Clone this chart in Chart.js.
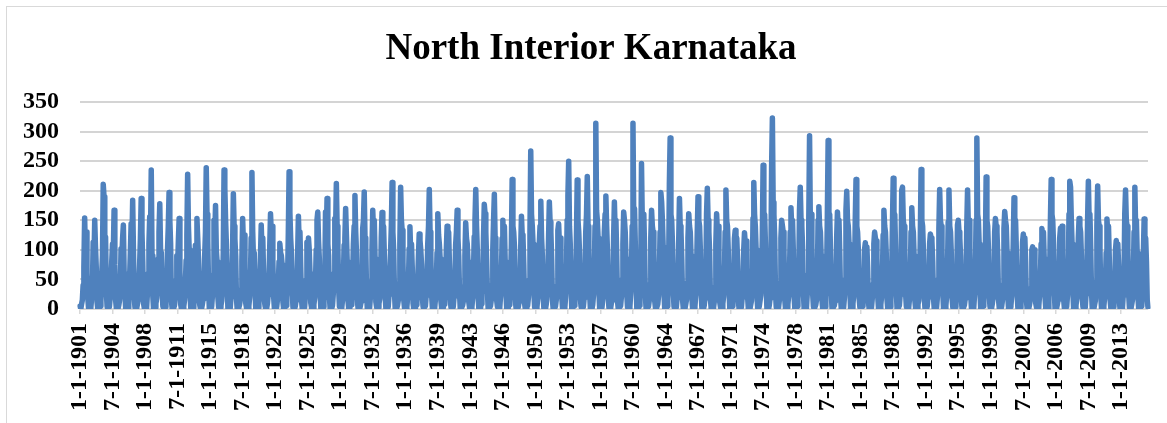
<!DOCTYPE html>
<html>
<head>
<meta charset="utf-8">
<title>North Interior Karnataka</title>
<script src="https://cdn.jsdelivr.net/npm/chart.js@4.4.1/dist/chart.umd.min.js"></script>
<style>
    html, body { margin: 0; padding: 0; background: #fff; }
    .wrap { position: relative; width: 1167px; height: 423px; overflow: hidden; }
    .frame {
        position: absolute; left: 6px; top: 6px; width: 1300px; height: 600px;
        border-left: 1px solid #d9d9d9; border-top: 1px solid #d9d9d9;
        pointer-events: none;
    }
    canvas { position: absolute; left: 0; top: 0; }
</style>
</head>
<body>
<div class="wrap">
    <div class="frame"></div>
    <canvas id="rainChart"></canvas>
</div>
<script>
// Monthly rainfall (mm), one row per year, Jan..Dec
const firstYear = 1901;
const rainfall = [
    [5, 0, 8, 15, 40, 70, 154, 95, 130, 60, 20, 2],        // 1901
    [0, 3, 2, 18, 35, 113, 80, 150, 105, 70, 12, 0],
    [2, 0, 5, 12, 55, 90, 211, 190, 120, 122, 30, 4],
    [0, 2, 4, 20, 45, 80, 110, 95, 167, 75, 15, 1],
    [3, 0, 6, 14, 30, 102, 85, 120, 142, 60, 25, 0],
    [1, 4, 3, 22, 50, 95, 144, 110, 184, 101, 18, 3],
    [0, 0, 7, 16, 38, 75, 120, 187, 130, 80, 10, 2],
    [4, 1, 2, 25, 60, 110, 156, 120, 235, 90, 22, 0],
    [0, 3, 9, 18, 42, 85, 130, 178, 100, 95, 30, 5],
    [2, 0, 4, 12, 35, 100, 140, 197, 150, 110, 14, 1],     // 1910
    [0, 2, 6, 19, 48, 90, 70, 115, 153, 65, 8, 0],
    [3, 0, 5, 15, 40, 82, 125, 228, 140, 100, 26, 2],
    [1, 5, 3, 20, 52, 108, 95, 153, 120, 85, 12, 4],
    [0, 1, 8, 17, 44, 90, 130, 239, 160, 115, 35, 0],
    [2, 0, 4, 23, 58, 150, 120, 175, 100, 80, 20, 3],
    [0, 3, 6, 14, 36, 95, 235, 204, 150, 110, 40, 1],
    [4, 0, 2, 21, 47, 100, 195, 140, 119, 90, 18, 0],
    [0, 2, 7, 16, 33, 80, 153, 110, 125, 70, 10, 2],
    [1, 0, 5, 19, 50, 120, 231, 130, 85, 95, 28, 0],
    [3, 4, 3, 13, 41, 88, 142, 100, 120, 60, 15, 5],       // 1920
    [0, 1, 9, 24, 55, 105, 161, 128, 140, 80, 22, 1],
    [2, 0, 4, 17, 38, 80, 111, 95, 90, 75, 12, 0],
    [0, 3, 6, 20, 46, 130, 232, 164, 120, 95, 30, 3],
    [1, 0, 5, 15, 35, 90, 157, 110, 130, 70, 16, 0],
    [4, 2, 3, 22, 49, 113, 95, 120, 100, 60, 10, 2],
    [0, 0, 8, 18, 40, 100, 150, 164, 115, 85, 25, 1],
    [2, 3, 4, 14, 37, 164, 120, 187, 110, 90, 20, 0],
    [0, 1, 6, 25, 60, 153, 130, 212, 140, 100, 33, 4],
    [3, 0, 2, 16, 44, 108, 120, 170, 125, 80, 14, 0],
    [1, 4, 7, 19, 52, 110, 140, 192, 130, 95, 18, 2],      // 1930
    [0, 0, 5, 13, 34, 136, 150, 198, 120, 105, 27, 0],
    [2, 1, 3, 21, 47, 100, 167, 130, 150, 85, 12, 3],
    [0, 3, 9, 17, 39, 120, 163, 110, 140, 90, 22, 1],
    [4, 0, 4, 24, 58, 95, 140, 214, 130, 100, 30, 0],
    [1, 2, 6, 15, 43, 110, 206, 150, 133, 80, 16, 2],
    [0, 0, 3, 20, 36, 102, 139, 95, 110, 70, 10, 0],
    [3, 1, 7, 12, 45, 90, 127, 116, 100, 75, 20, 4],
    [0, 4, 5, 23, 51, 110, 140, 202, 130, 90, 24, 1],
    [2, 0, 2, 18, 40, 95, 161, 125, 110, 85, 14, 0],
    [0, 2, 8, 16, 33, 100, 140, 119, 130, 75, 18, 3],      // 1940
    [1, 0, 4, 21, 48, 108, 130, 167, 120, 90, 28, 0],
    [4, 3, 6, 14, 38, 90, 146, 120, 110, 80, 12, 2],
    [0, 1, 3, 19, 55, 122, 150, 202, 140, 100, 20, 0],
    [2, 0, 9, 25, 47, 120, 177, 161, 130, 85, 32, 1],
    [0, 3, 5, 15, 40, 100, 150, 194, 120, 95, 15, 4],
    [1, 0, 2, 22, 44, 119, 150, 110, 140, 80, 25, 0],
    [3, 2, 7, 17, 50, 110, 219, 140, 130, 105, 18, 2],
    [0, 0, 4, 13, 36, 100, 157, 125, 120, 75, 10, 0],
    [2, 4, 6, 20, 49, 130, 267, 160, 140, 110, 30, 3],
    [0, 1, 3, 18, 42, 110, 140, 182, 120, 90, 20, 1],      // 1950
    [1, 0, 8, 24, 53, 120, 181, 147, 130, 85, 15, 0],
    [4, 2, 5, 16, 39, 133, 144, 110, 120, 80, 22, 2],
    [0, 0, 2, 21, 57, 150, 192, 250, 140, 110, 35, 0],
    [2, 3, 6, 14, 44, 120, 218, 150, 130, 95, 18, 4],
    [0, 1, 4, 19, 48, 130, 160, 224, 140, 100, 27, 1],
    [3, 0, 7, 23, 60, 140, 314, 167, 150, 120, 30, 0],
    [1, 4, 3, 17, 45, 130, 160, 191, 140, 100, 20, 2],
    [0, 0, 9, 15, 38, 120, 181, 130, 150, 90, 14, 0],
    [2, 2, 5, 20, 50, 110, 164, 150, 130, 85, 24, 3],
    [0, 1, 3, 26, 62, 140, 314, 150, 170, 110, 36, 1],     // 1960
    [4, 0, 6, 18, 47, 246, 150, 144, 160, 100, 22, 0],
    [1, 3, 4, 14, 42, 120, 167, 140, 130, 95, 15, 2],
    [0, 0, 8, 22, 53, 130, 197, 181, 150, 105, 28, 0],
    [2, 1, 5, 17, 58, 212, 289, 160, 150, 110, 30, 4],
    [0, 4, 3, 19, 40, 110, 187, 140, 130, 85, 16, 1],
    [3, 0, 7, 15, 44, 120, 161, 140, 130, 90, 20, 0],
    [0, 2, 4, 24, 51, 130, 190, 150, 140, 100, 26, 2],
    [1, 0, 6, 18, 46, 161, 204, 150, 130, 95, 18, 0],
    [4, 3, 2, 13, 37, 110, 161, 130, 140, 80, 12, 3],
    [0, 1, 9, 21, 55, 130, 201, 150, 140, 100, 30, 0],     // 1970
    [2, 0, 5, 16, 42, 119, 133, 110, 120, 85, 14, 1],
    [0, 2, 3, 20, 39, 100, 129, 110, 115, 70, 20, 0],
    [3, 0, 7, 14, 48, 153, 214, 160, 140, 100, 24, 2],
    [1, 4, 4, 23, 56, 120, 243, 150, 160, 110, 34, 0],
    [0, 0, 6, 18, 62, 240, 323, 180, 160, 120, 28, 3],
    [2, 1, 3, 15, 44, 120, 150, 140, 130, 95, 16, 0],
    [0, 3, 8, 22, 50, 130, 171, 136, 150, 100, 22, 1],
    [4, 0, 5, 17, 47, 167, 206, 150, 140, 105, 30, 0],
    [1, 2, 2, 25, 58, 150, 293, 148, 160, 110, 26, 4],
    [0, 0, 7, 16, 41, 150, 173, 140, 130, 90, 15, 0],      // 1980
    [3, 1, 4, 20, 54, 161, 285, 150, 160, 100, 28, 2],
    [0, 4, 6, 14, 38, 120, 164, 140, 150, 95, 20, 0],
    [2, 0, 3, 19, 50, 167, 199, 150, 140, 110, 32, 1],
    [0, 2, 9, 23, 46, 150, 219, 140, 130, 100, 18, 3],
    [1, 0, 5, 15, 36, 100, 112, 96, 105, 70, 12, 0],
    [4, 3, 3, 18, 42, 110, 130, 120, 115, 85, 22, 2],
    [0, 0, 7, 21, 49, 125, 167, 140, 130, 95, 16, 0],
    [2, 1, 4, 16, 53, 140, 221, 150, 160, 105, 30, 1],
    [0, 3, 6, 24, 58, 201, 206, 150, 140, 100, 26, 4],
    [1, 0, 2, 17, 44, 130, 171, 140, 130, 90, 14, 0],      // 1990
    [3, 2, 8, 14, 40, 120, 236, 150, 140, 100, 24, 2],
    [0, 0, 5, 20, 47, 110, 127, 120, 115, 80, 20, 0],
    [2, 4, 3, 19, 50, 136, 202, 150, 140, 100, 28, 1],
    [0, 1, 6, 22, 55, 147, 201, 140, 130, 95, 18, 3],
    [4, 0, 4, 15, 39, 142, 150, 130, 120, 90, 14, 0],
    [1, 3, 7, 18, 46, 139, 201, 140, 150, 100, 26, 2],
    [0, 0, 2, 23, 52, 150, 289, 160, 150, 110, 30, 0],
    [2, 2, 5, 16, 48, 100, 223, 150, 140, 100, 22, 4],
    [0, 1, 9, 20, 43, 130, 153, 140, 130, 90, 16, 1],
    [3, 0, 4, 14, 41, 136, 165, 150, 140, 95, 20, 0],      // 2000
    [1, 4, 6, 21, 50, 110, 188, 140, 150, 100, 25, 2],
    [0, 0, 3, 17, 37, 113, 127, 110, 120, 80, 14, 0],
    [2, 1, 7, 15, 35, 100, 105, 96, 100, 75, 10, 3],
    [0, 3, 5, 24, 47, 110, 136, 120, 130, 85, 20, 1],
    [4, 0, 2, 19, 56, 150, 219, 160, 150, 110, 30, 0],
    [1, 2, 8, 16, 42, 120, 137, 130, 140, 95, 18, 2],
    [0, 0, 4, 22, 58, 160, 216, 206, 150, 110, 28, 0],
    [3, 1, 6, 18, 44, 120, 153, 140, 130, 90, 20, 4],
    [0, 4, 3, 25, 60, 150, 216, 150, 160, 105, 32, 1],
    [2, 0, 7, 14, 46, 140, 208, 150, 140, 100, 24, 0],     // 2010
    [0, 2, 5, 20, 40, 95, 152, 130, 140, 85, 16, 2],
    [1, 0, 4, 17, 38, 100, 116, 90, 110, 75, 12, 0],
    [4, 3, 2, 23, 52, 161, 201, 150, 140, 100, 26, 3],
    [0, 1, 8, 16, 48, 130, 206, 140, 150, 95, 20, 0],
    [2, 0, 5, 21, 45, 91, 152, 110, 120, 80, 15, 3]        // 2015
];

// labels shown under the axis
const tickLabels = [
    '1-1-1901', '7-1-1904', '1-1-1908', '7-1-1911', '1-1-1915', '7-1-1918',
    '1-1-1922', '7-1-1925', '1-1-1929', '7-1-1932', '1-1-1936', '7-1-1939',
    '1-1-1943', '7-1-1946', '1-1-1950', '7-1-1953', '1-1-1957', '7-1-1960',
    '1-1-1964', '7-1-1967', '1-1-1971', '7-1-1974', '1-1-1978', '7-1-1981',
    '1-1-1985', '7-1-1988', '1-1-1992', '7-1-1995', '1-1-1999', '7-1-2002',
    '1-1-2006', '7-1-2009', '1-1-2013'
];

const yTicks = [0, 50, 100, 150, 200, 250, 300, 350];
const chartTitle = 'North Interior Karnataka';

// one category per month, m-d-yyyy like the sheet
const labels = [];
const values = [];
rainfall.forEach((row, i) => {
    row.forEach((v, m) => {
        labels.push((m + 1) + '-1-' + (firstYear + i));
        values.push(v);
    });
});

const serif = "'Liberation Serif', 'Times New Roman', serif";

// Excel centres the title a little right of the canvas middle
const titleDraw = {
    id: 'titleDraw',
    afterDraw(chart) {
        const c = chart.ctx;
        c.save();
        c.font = 'bold 37px ' + serif;
        c.fillStyle = '#000';
        c.textAlign = 'center';
        c.textBaseline = 'middle';
        c.fillText(chartTitle, 591, 49);
        c.restore();
    }
};

const ctx = document.getElementById('rainChart').getContext('2d');

const rainChart = new Chart(ctx, {
    type: 'line',
    data: {
        labels: labels,
        datasets: [{
            label: 'Rainfall',
            data: values,
            borderColor: '#4f81bd',
            borderWidth: 5.5,
            borderCapStyle: 'round',
            borderJoinStyle: 'round',
            pointRadius: 0,
            tension: 0,
            fill: false
        }]
    },
    options: {
        responsive: true,
        maintainAspectRatio: false,
        animation: false,
        layout: { padding: { left: 0, right: 19, top: 102, bottom: 0 } },
        plugins: {
            legend: { display: false },
            tooltip: { enabled: false },
            title: { display: false }
        },
        scales: {
            x: {
                offset: false,
                ticks: {
                    autoSkip: false,
                    maxRotation: 90,
                    minRotation: 90,
                    padding: 9,
                    color: '#000',
                    font: { family: serif, size: 24, weight: 'bold' }
                },
                grid: {
                    drawOnChartArea: false,
                    drawTicks: true,
                    tickLength: 5,
                    color: '#d9d9d9',
                    lineWidth: 1.5
                },
                border: { color: '#d9d9d9', width: 1.5 },
                afterBuildTicks: axis => {
                    axis.ticks = axis.ticks.filter(t => tickLabels.includes(labels[t.value]));
                },
                afterFit: axis => { axis.height = 114; }
            },
            y: {
                min: yTicks[0],
                max: yTicks[yTicks.length - 1],
                afterBuildTicks: axis => {
                    axis.ticks = yTicks.map(v => ({ value: v }));
                },
                ticks: {
                    autoSkip: false,
                    padding: 21,
                    color: '#000',
                    font: { family: serif, size: 24, weight: 'bold' }
                },
                grid: { color: '#d4d4d4', lineWidth: 2, drawTicks: false },
                border: { display: false },
                afterFit: axis => { axis.width = 80; }
            }
        }
    },
    plugins: [titleDraw]
});
</script>
</body>
</html>
